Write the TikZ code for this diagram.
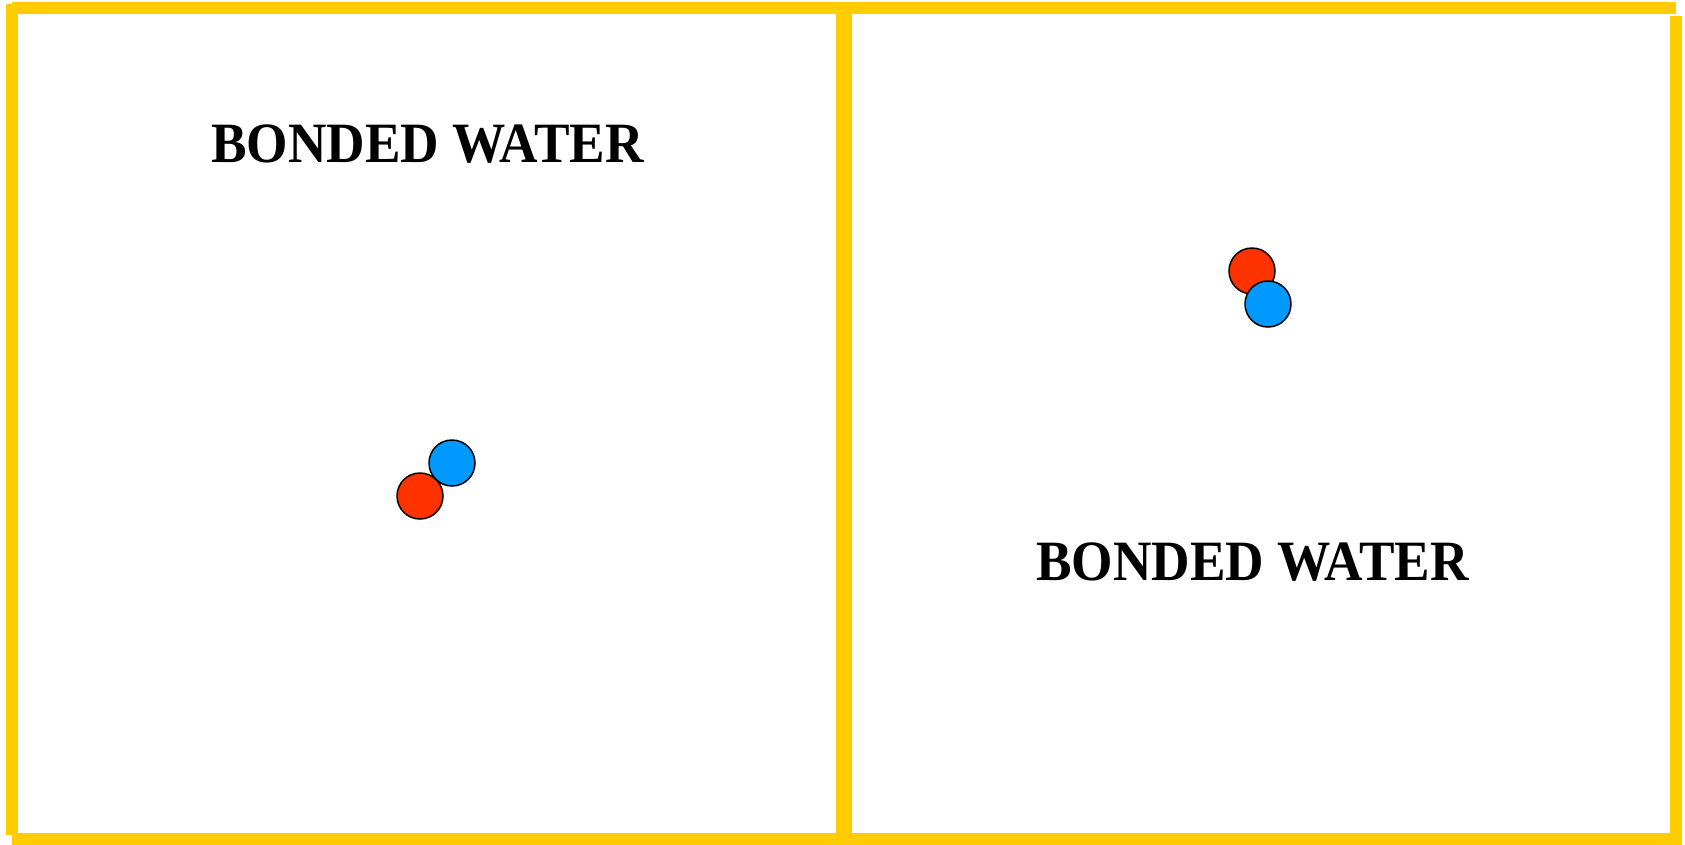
\documentclass[tikz,border=0pt]{standalone}
\usepackage{fontspec}
\setmainfont{Liberation Serif}
\usepackage{tikz}
\definecolor{frame}{RGB}{255,204,0}
\definecolor{atomred}{RGB}{255,51,0}
\definecolor{atomblue}{RGB}{0,153,255}

\begin{document}
\begin{tikzpicture}[x=1pt,y=-1pt,
  wall/.style={draw=frame,line width=12pt},
  red atom/.style={circle,draw,line width=1.5pt,fill=atomred,minimum size=46pt,inner sep=0pt},
  blue atom/.style={circle,draw,line width=1.5pt,fill=atomblue,minimum size=46pt,inner sep=0pt},
  label/.style={font=\bfseries\fontsize{57}{61}\selectfont}]
\useasboundingbox (0,0) rectangle (1685,844);

\draw[wall] (12,8) -- (1676,8);
\draw[wall] (12,4) -- (12,835);
\draw[wall] (12,839) -- (1682,839);
\draw[wall] (1676,16) -- (1676,844);
\draw[wall,line width=16pt] (844,2) -- (844,844);

\node[label] (t1) at (427.5,144) {\scalebox{0.935}[1]{BONDED WATER}};
\node[label] (t2) at (1252.5,562.5) {\scalebox{0.935}[1]{BONDED WATER}};

\node[blue atom] (b1) at (452,463) {};
\node[red atom] (r1) at (420,496) {};
\node[red atom] (r2) at (1252,271) {};
\node[blue atom] (b2) at (1268,304) {};
\end{tikzpicture}
\end{document}
